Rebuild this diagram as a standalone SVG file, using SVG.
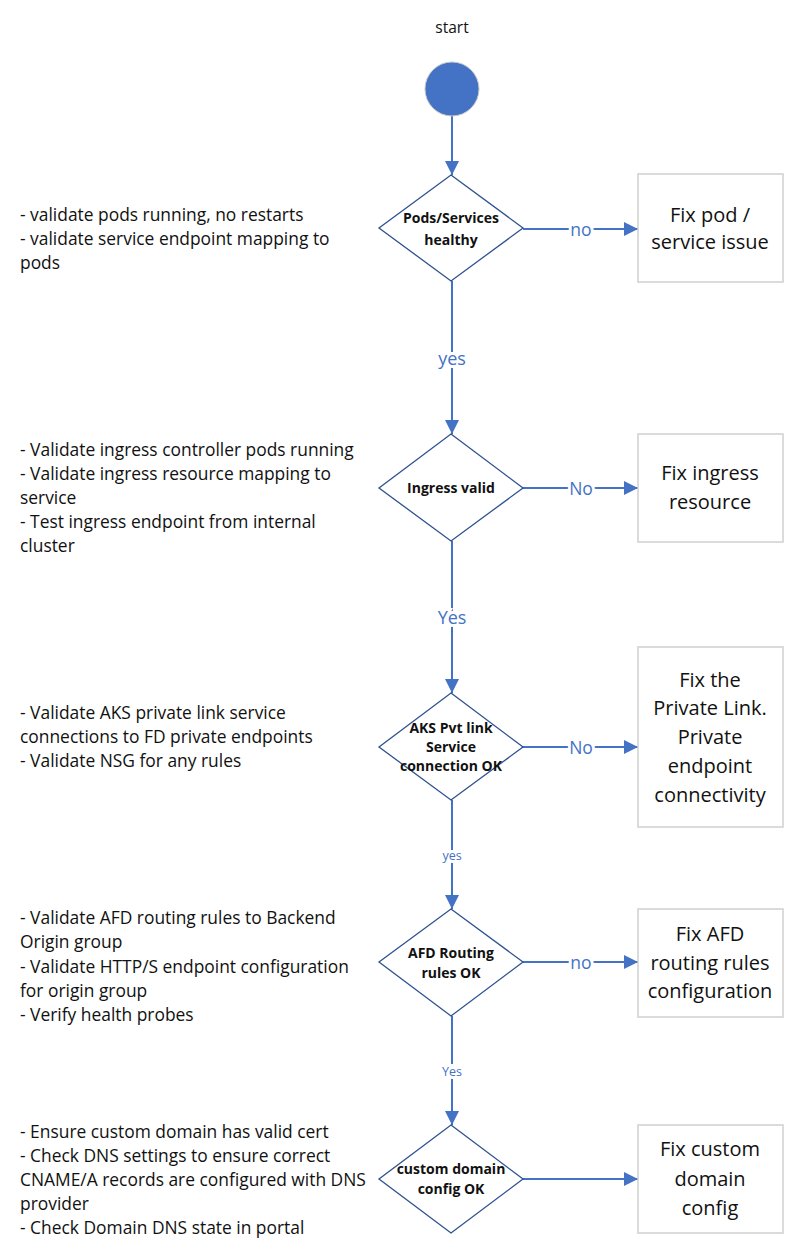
<svg xmlns="http://www.w3.org/2000/svg" width="800" height="1259" viewBox="0 0 800 1259">
<style>
.note{font-family:"Open Sans","Liberation Sans",Arial,sans-serif;font-size:17.4px;fill:#111}
.box{fill:#fff;stroke:#d0d0d0;stroke-width:1.5}
.btxt{font-family:"Open Sans","Liberation Sans",Arial,sans-serif;font-size:20px;fill:#111;text-anchor:middle}
.dia{fill:#fff;stroke:#2f528f;stroke-width:1.3}
.dtxt{font-family:"Open Sans","Liberation Sans",Arial,sans-serif;font-size:14px;font-weight:bold;fill:#111;text-anchor:middle}
.edge{stroke:#4472c4;stroke-width:2;fill:none;marker-end:url(#ah)}
.elab{font-family:"Open Sans","Liberation Sans",Arial,sans-serif;fill:#4472c4;text-anchor:middle;dominant-baseline:central;stroke:#fff;stroke-width:6;paint-order:stroke}
</style>
<defs>
<marker id="ah" viewBox="0 0 14 14" refX="14" refY="7" markerWidth="14" markerHeight="14" markerUnits="userSpaceOnUse" orient="auto">
<path d="M0,0 L14,7 L0,14 z" fill="#4472c4"/>
</marker>
</defs>

<g id="connectors">
<path class="edge" d="M452,116 V175"/>
<path class="edge" d="M523,229 H638"/>
<path class="edge" d="M452,281 V434"/>
<path class="edge" d="M523,488 H638"/>
<path class="edge" d="M452,541 V693"/>
<path class="edge" d="M523,747 H638"/>
<path class="edge" d="M452,800 V909"/>
<path class="edge" d="M523,962 H638"/>
<path class="edge" d="M452,1016 V1125"/>
<path class="edge" d="M523,1179 H638"/>
<text class="elab" x="581" y="229" font-size="17.5">no</text>
<text class="elab" x="452" y="358" font-size="18">yes</text>
<text class="elab" x="581" y="488" font-size="17.5">No</text>
<text class="elab" x="452" y="617" font-size="18">Yes</text>
<text class="elab" x="581" y="747" font-size="17.5">No</text>
<text class="elab" x="452" y="855" font-size="12.5">yes</text>
<text class="elab" x="581" y="962" font-size="17.5">no</text>
<text class="elab" x="452" y="1071" font-size="12.5">Yes</text>
</g>

<g id="start">
<text x="452" y="33" font-family="Open Sans,Liberation Sans,Arial,sans-serif" font-size="15.5" text-anchor="middle" fill="#111">start</text>
<circle cx="452" cy="89" r="27" fill="#4472c4" stroke="#c8c8c8" stroke-width="1"/>
</g>

<g id="d1">
<polygon class="dia" points="451,175 523,228 451,281 379,228"/>
<text class="dtxt" x="451" y="223">Pods/Services</text>
<text class="dtxt" x="451" y="245">healthy</text>
</g>
<g id="b1">
<rect class="box" x="638" y="174" width="145" height="108"/>
<text class="btxt" x="710" y="222">Fix pod /</text>
<text class="btxt" x="710" y="249">service issue</text>
</g>
<g id="n1">
<text class="note" x="20" y="221">- validate pods running, no restarts</text>
<text class="note" x="20" y="245">- validate service endpoint mapping to</text>
<text class="note" x="20" y="269">pods</text>
</g>

<g id="d2">
<polygon class="dia" points="451,434 523,488 451,541 379,488"/>
<text class="dtxt" x="451" y="493">Ingress valid</text>
</g>
<g id="b2">
<rect class="box" x="638" y="434" width="145" height="108"/>
<text class="btxt" x="710" y="480">Fix ingress</text>
<text class="btxt" x="710" y="509">resource</text>
</g>
<g id="n2">
<text class="note" x="20" y="456">- Validate ingress controller pods running</text>
<text class="note" x="20" y="480">- Validate ingress resource mapping to</text>
<text class="note" x="20" y="504">service</text>
<text class="note" x="20" y="528">- Test ingress endpoint from internal</text>
<text class="note" x="20" y="552">cluster</text>
</g>

<g id="d3">
<polygon class="dia" points="451,693 523,747 451,800 379,747"/>
<text class="dtxt" x="451" y="733">AKS Pvt link</text>
<text class="dtxt" x="451" y="752">Service</text>
<text class="dtxt" x="451" y="771">connection OK</text>
</g>
<g id="b3">
<rect class="box" x="638" y="647" width="145" height="180"/>
<text class="btxt" x="710" y="687">Fix the</text>
<text class="btxt" x="710" y="715">Private Link.</text>
<text class="btxt" x="710" y="744">Private</text>
<text class="btxt" x="710" y="773">endpoint</text>
<text class="btxt" x="710" y="802">connectivity</text>
</g>
<g id="n3">
<text class="note" x="20" y="719">- Validate AKS private link service</text>
<text class="note" x="20" y="743">connections to FD private endpoints</text>
<text class="note" x="20" y="767">- Validate NSG for any rules</text>
</g>

<g id="d4">
<polygon class="dia" points="451,909 523,962 451,1016 379,962"/>
<text class="dtxt" x="451" y="958">AFD Routing</text>
<text class="dtxt" x="451" y="978">rules OK</text>
</g>
<g id="b4">
<rect class="box" x="638" y="909" width="145" height="108"/>
<text class="btxt" x="710" y="941">Fix AFD</text>
<text class="btxt" x="710" y="970">routing rules</text>
<text class="btxt" x="710" y="998">configuration</text>
</g>
<g id="n4">
<text class="note" x="20" y="924">- Validate AFD routing rules to Backend</text>
<text class="note" x="20" y="948">Origin group</text>
<text class="note" x="20" y="973">- Validate HTTP/S endpoint configuration</text>
<text class="note" x="20" y="997">for origin group</text>
<text class="note" x="20" y="1021">- Verify health probes</text>
</g>

<g id="d5">
<polygon class="dia" points="451,1125 523,1179 451,1233 379,1179"/>
<text class="dtxt" x="451" y="1174">custom domain</text>
<text class="dtxt" x="451" y="1194">config OK</text>
</g>
<g id="b5">
<rect class="box" x="638" y="1125" width="145" height="108"/>
<text class="btxt" x="710" y="1156">Fix custom</text>
<text class="btxt" x="710" y="1186">domain</text>
<text class="btxt" x="710" y="1215">config</text>
</g>
<g id="n5">
<text class="note" x="20" y="1138">- Ensure custom domain has valid cert</text>
<text class="note" x="20" y="1162">- Check DNS settings to ensure correct</text>
<text class="note" x="20" y="1186">CNAME/A records are configured with DNS</text>
<text class="note" x="20" y="1210">provider</text>
<text class="note" x="20" y="1234">- Check Domain DNS state in portal</text>
</g>
</svg>
